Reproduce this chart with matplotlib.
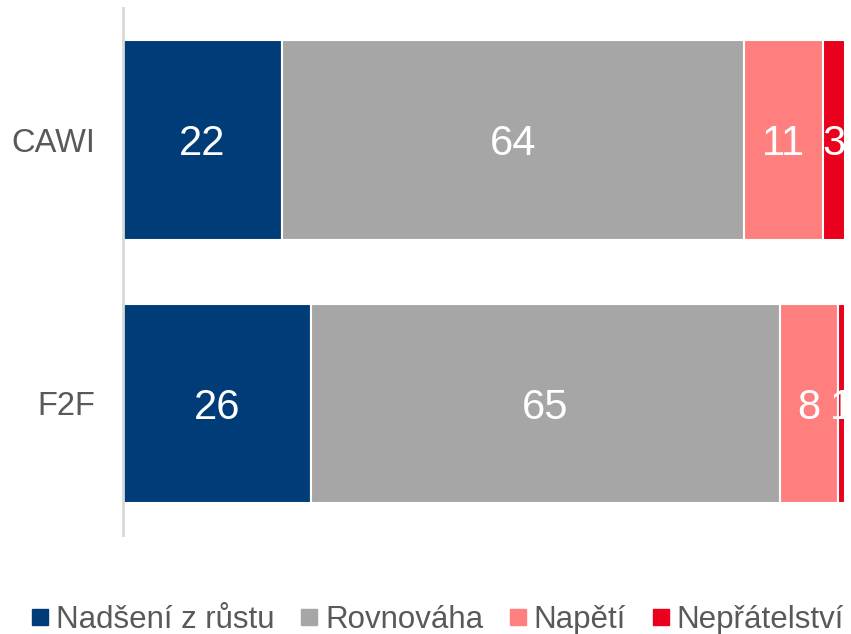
import matplotlib.pyplot as plt
from matplotlib.lines import Line2D

plt.rcParams['font.family'] = ['Liberation Sans', 'DejaVu Sans']

groups = ["F2F", "CAWI"]
series = ["Nadšení z růstu", "Rovnováha", "Napětí", "Nepřátelství"]
values = {
    "Nadšení z růstu": [26, 22],
    "Rovnováha": [65, 64],
    "Napětí": [8, 11],
    "Nepřátelství": [1, 3],
}
colors = ["#003C78", "#A6A6A6", "#FF7F7F", "#E8001C"]

fig = plt.figure(figsize=(8.51, 6.34), dpi=100)
ax = fig.add_axes([0.1445, 0.156, 0.8485, 0.831])

ypos = list(range(len(groups)))
left = [0] * len(groups)
for name, col in zip(series, colors):
    vals = values[name]
    ax.barh(ypos, vals, left=left, height=0.758, color=col,
            edgecolor="white", linewidth=1.5)
    for y, l, v in zip(ypos, left, vals):
        ax.text(l + v / 2, y, str(v), ha="center", va="center_baseline",
                color="white", fontsize=30, clip_on=True)
    left = [a + b for a, b in zip(left, vals)]

ax.set_xlim(0, 100)
ax.set_ylim(-0.5, 1.5)
ax.set_yticks(ypos)
ax.set_yticklabels(groups, fontsize=23.5, color="#595959")
ax.tick_params(axis="y", length=0, pad=20)
ax.set_xticks([])
for s in ["top", "right", "bottom"]:
    ax.spines[s].set_visible(False)
ax.spines["left"].set_color("#D9D9D9")
ax.spines["left"].set_linewidth(2)

handles = [Line2D([], [], marker="s", linestyle="none", color=c, markersize=12)
           for c in colors]
leg = fig.legend(handles, series, loc="center left", bbox_to_anchor=(0.038, 0.022),
                 ncol=4, frameon=False, fontsize=22.5, handlelength=0.5,
                 handletextpad=0.25, columnspacing=0.87, borderaxespad=0,
                 borderpad=0)
for t in leg.get_texts():
    t.set_color("#595959")

plt.savefig("out.png", dpi=100)
